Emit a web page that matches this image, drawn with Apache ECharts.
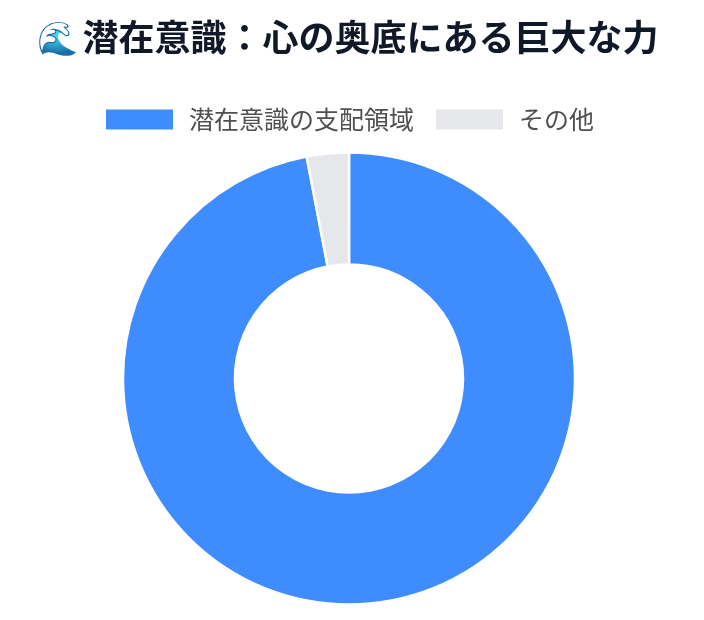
<!DOCTYPE html>
<html><head><meta charset="utf-8">
<style>html,body{margin:0;padding:0;background:#fff}#c{width:704px;height:620px}</style>
<script src="https://cdn.jsdelivr.net/npm/echarts@6/dist/echarts.min.js"></script>
</head><body><div id="c"></div>
<script>
const categories = ['潜在意識の支配領域','その他'];
const values = [97,3];
const colors = ['#3f8cff','#e5e7eb'];
const titleIcon = '🌊';
const titleText = '潜在意識：心の奥底にある巨大な力';
const fam = '"Noto Sans CJK JP",sans-serif';
const chart = echarts.init(document.getElementById('c'),null,{renderer:'canvas'});
chart.setOption({
  animation:false,
  title:{text:`{e|${titleIcon}}{s| }{t|${titleText}}`,left:32,top:14,textStyle:{rich:{
    e:{fontFamily:fam,fontSize:33,fontWeight:700,color:'#111827'},
    s:{fontFamily:fam,fontSize:20,fontWeight:700,color:'#111827'},
    t:{fontFamily:fam,fontSize:36,fontWeight:700,color:'#111827'}}}},
  legend:{top:102,left:99,itemWidth:69,itemHeight:22,itemGap:20,icon:'rect',data:categories,
    textStyle:{fontFamily:fam,fontSize:25,color:'#4f4f4f',padding:[0,0,0,10]}},
  series:[{type:'pie',radius:[114,226],center:[349,378.5],startAngle:90,clockwise:true,label:{show:false},labelLine:{show:false},
    itemStyle:{borderColor:'#fff',borderWidth:2.5},
    data:categories.map((n,i)=>({name:n,value:values[i],itemStyle:{color:colors[i]}}))}]
});
</script></body></html>
